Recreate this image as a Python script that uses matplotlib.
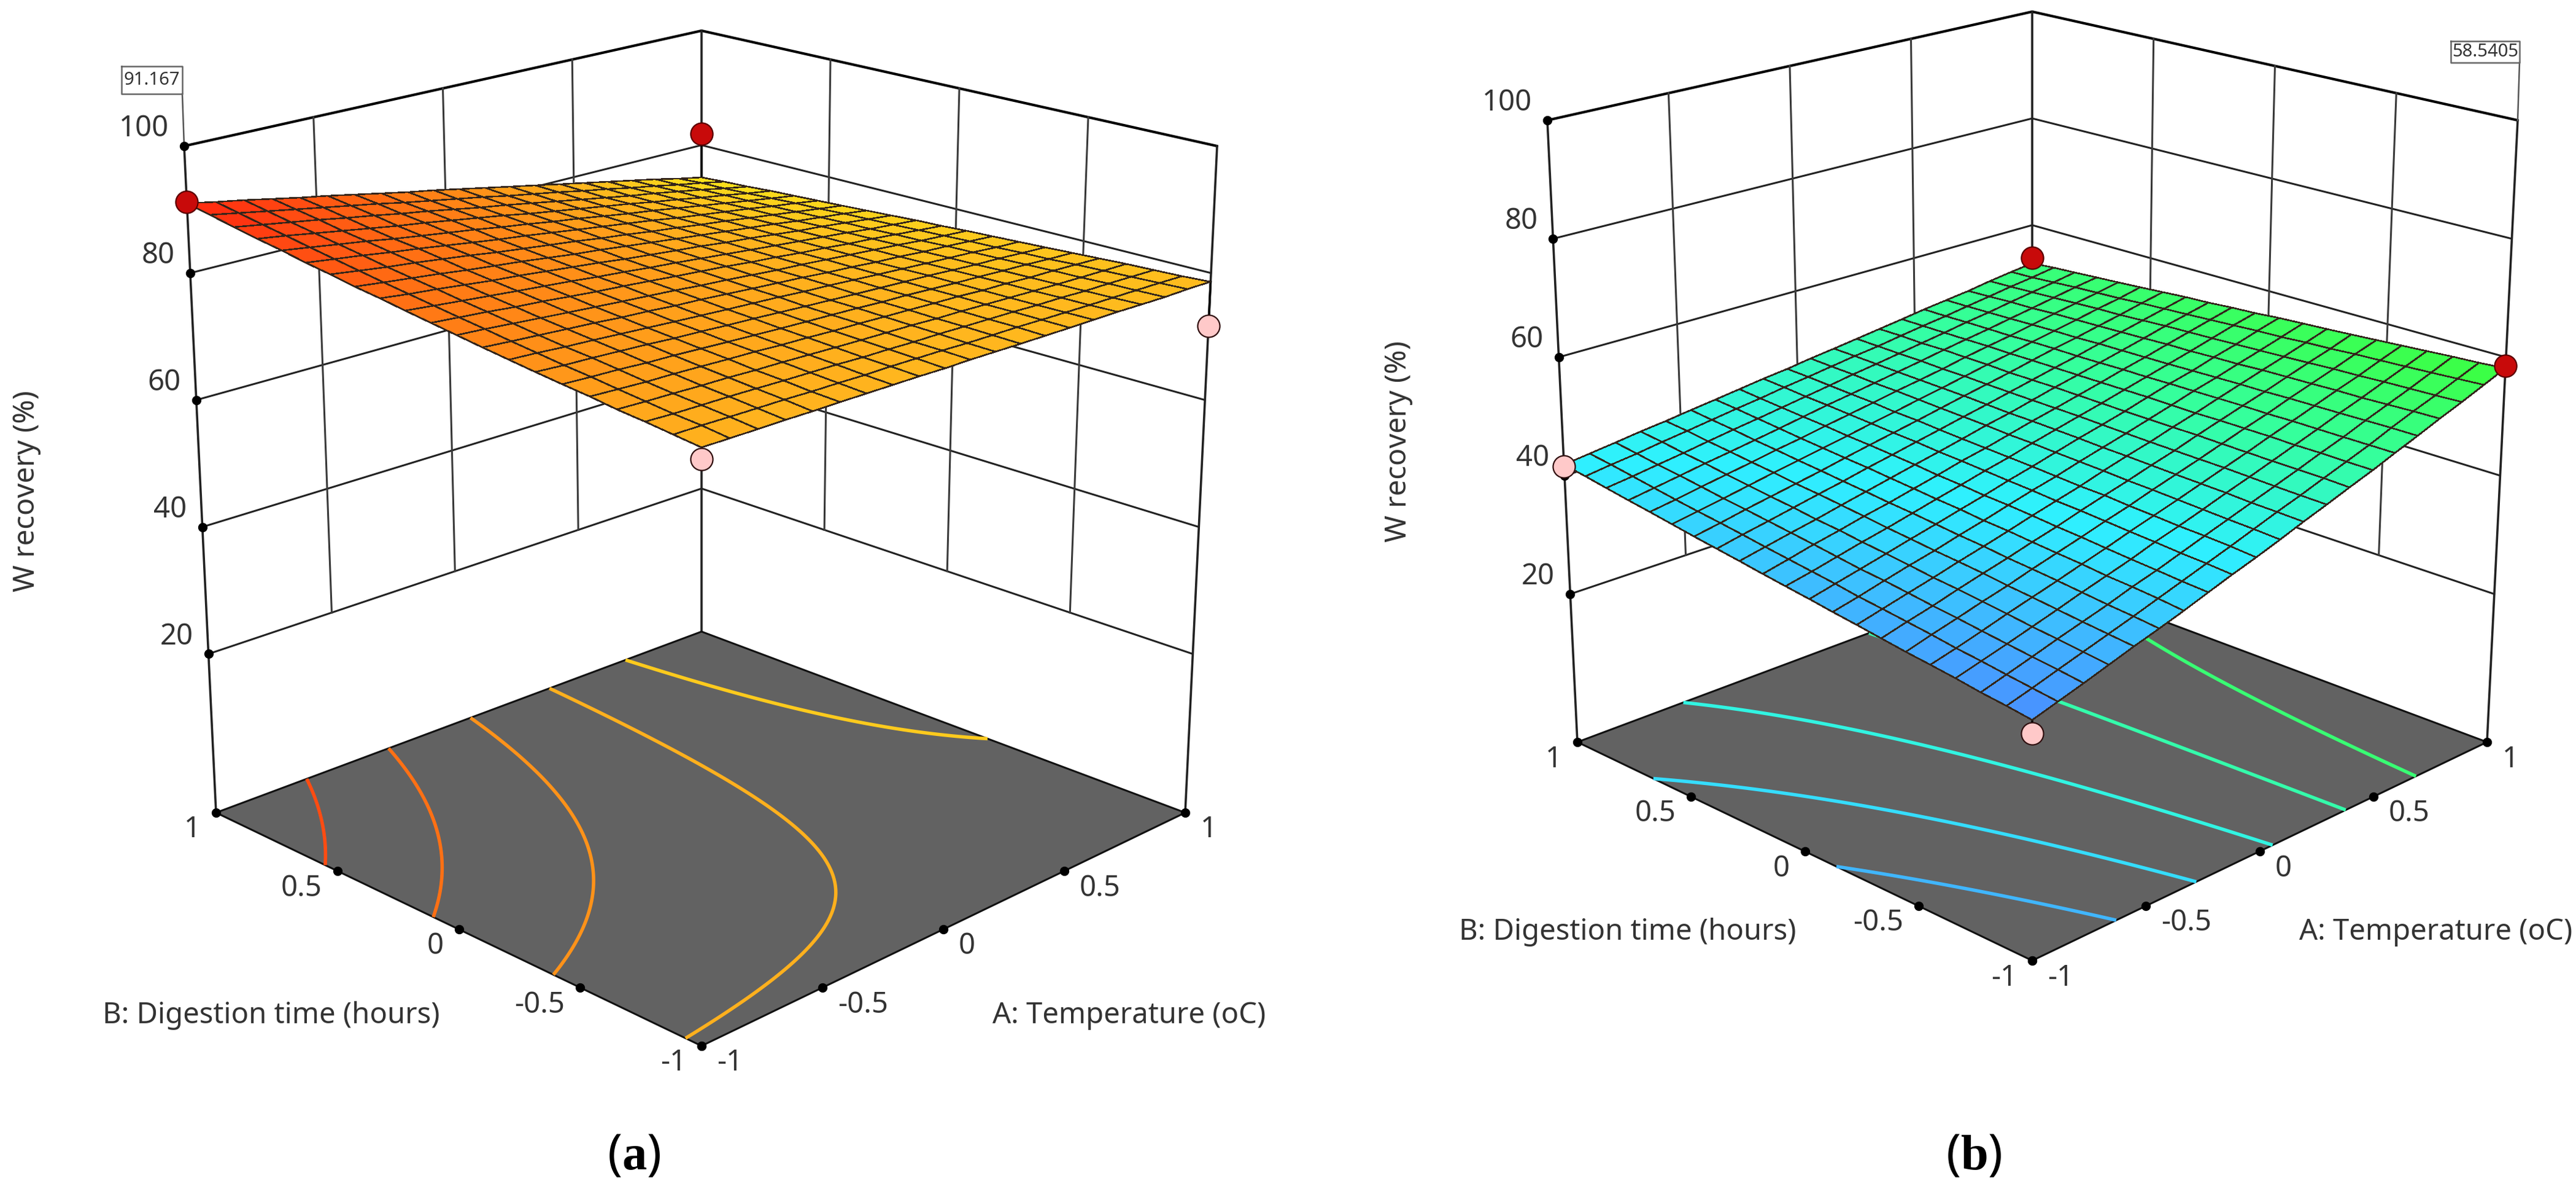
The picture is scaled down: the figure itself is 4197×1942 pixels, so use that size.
import numpy as np
import matplotlib
matplotlib.use('Agg')
import matplotlib.pyplot as plt
from matplotlib.colors import LinearSegmentedColormap, Normalize
from numpy.polynomial import polynomial as poly

plt.rcParams['font.family'] = ['Noto Sans', 'DejaVu Sans']
plt.rcParams['mathtext.fontset'] = 'custom'
plt.rcParams['mathtext.rm'] = 'Liberation Serif'
plt.rcParams['mathtext.bf'] = 'Liberation Serif:bold'

# readings, W recovery (%) at coded A (columns) and B (rows)
coded = [-1, -0.5, 0, 0.5, 1]
recovery_a = [[79.30, 79.13, 78.95, 78.78, 78.60],
              [81.72, 80.70, 79.68, 78.66, 77.64],
              [84.48, 82.52, 80.55, 78.59, 76.62],
              [87.57, 84.56, 81.56, 78.55, 75.54],
              [91.00, 86.85, 82.70, 78.55, 74.40]]
recovery_b = [[31.00, 37.00, 43.60, 50.70, 58.10],
              [33.30, 39.00, 44.55, 50.55, 56.80],
              [36.15, 40.90, 45.50, 50.40, 55.50],
              [39.00, 42.75, 46.40, 50.25, 54.20],
              [41.80, 44.60, 47.35, 50.10, 52.90]]

# design points, corners of the square
point_a = [-1, 1, 1, -1]
point_b = [-1, 1, -1, 1]
design_a = [77.6, 82.0, 71.7, 91.167]
design_b = [28.9, 53.9, 58.5405, 41.5]

contours_a = [77.0, 79.6, 82.3, 85.1, 87.9]
contours_b = [35.4, 39.9, 44.4, 48.9, 53.4]

z_ticks = [20, 40, 60, 80, 100]
coded_ticks = [-1, -0.5, 0, 0.5, 1]
coded_labels = ['-1', '-0.5', '0', '0.5', '1']

# colour ramp of the surface
ramp_values = [28, 31, 37, 42, 50, 58, 74.4, 79.3, 85, 91]
ramp_colors = ['#3f7fff', '#4a8fff', '#3cc4ff', '#2ff0ff', '#35ff9c',
               '#3cff3c', '#fbe61b', '#ffb41e', '#ff7414', '#ff2410']

W, H = 4197, 1942
norm = Normalize(ramp_values[0], ramp_values[-1])
cmap = LinearSegmentedColormap.from_list(
    'surface', [(norm(v), c) for v, c in zip(ramp_values, ramp_colors)])

Z_BASE = -5
MESH = 20
DEPTH = 0.12  # mesh cells shrink towards the back
TEXT = '#333333'
LINE = '#3a3a3a'


def make_box(floor, top):
    # floor and top: screen px of the corners (front, right, left, back)
    floor = np.array(floor, float)
    top = np.array(top, float)

    def place(a, b, z):
        a, b, z = np.broadcast_arrays(np.asarray(a, float), np.asarray(b, float), np.asarray(z, float))
        u = (a + 1) / 2
        v = (b + 1) / 2
        t = (z - Z_BASE) / (100 - Z_BASE)
        w = [(1 - u) * (1 - v), u * (1 - v), (1 - u) * v, u * v]
        x = sum(w[i] * (floor[i, 0] * (1 - t) + top[i, 0] * t) for i in range(4))
        y = sum(w[i] * (floor[i, 1] * (1 - t) + top[i, 1] * t) for i in range(4))
        return x, y
    return place


def response(table, a, b):
    # biquadratic response surface through the table readings
    aa, bb = np.meshgrid(coded, coded)
    vand = poly.polyvander2d(aa.ravel(), bb.ravel(), [2, 2])
    coef = np.linalg.lstsq(vand, np.array(table).ravel(), rcond=None)[0].reshape(3, 3)
    return poly.polyval2d(a, b, coef)


def foreshorten(c):
    u = (c + 1) / 2
    return 2 * (1 + DEPTH) * u / (1 + DEPTH * u) - 1


def draw_panel(ax, place, table, levels, design, opts):
    # walls
    for z in z_ticks:
        lw = 3.0 if z == 100 else 2.2
        col = 'black' if z == 100 else '#222222'
        x, y = place([-1, 1, 1], [1, 1, -1], z)
        ax.plot(x, y, color=col, lw=lw, zorder=1, solid_capstyle='round')
    for t in [-0.5, 0, 0.5]:
        x, y = place(t, 1, [20, 100])
        ax.plot(x, y, color=LINE, lw=2.2, zorder=1)
        x, y = place(1, t, [20, 100])
        ax.plot(x, y, color=LINE, lw=2.2, zorder=1)
    for a, b in [(-1, 1), (1, 1), (1, -1)]:
        x, y = place(a, b, [Z_BASE, 100])
        ax.plot(x, y, color='#222222', lw=2.6, zorder=1)

    # floor and contours
    x, y = place([-1, 1, 1, -1], [-1, -1, 1, 1], Z_BASE)
    ax.fill(x, y, facecolor='#626262', edgecolor='#111111', lw=2.2, zorder=2)
    fine = np.linspace(-1, 1, 121)
    fa, fb = np.meshgrid(fine, fine)
    fx, fy = place(fa, fb, Z_BASE)
    ax.contour(fx, fy, response(table, fa, fb), levels=levels,
               colors=[cmap(norm(v)) for v in levels], linewidths=4.0, zorder=3)

    # surface
    edges = np.linspace(-1, 1, MESH + 1)
    ea, eb = np.meshgrid(edges, edges)
    sx, sy = place(foreshorten(ea), foreshorten(eb), response(table, ea, eb))
    mids = (edges[:-1] + edges[1:]) / 2
    ma, mb = np.meshgrid(mids, mids)
    ax.pcolormesh(sx, sy, response(table, ma, mb), cmap=cmap, norm=norm, shading='flat',
                  edgecolors='#33241a', linewidth=1.1, zorder=5)

    # design points with stems to the surface
    for a, b, z in zip(point_a, point_b, design):
        s = response(table, float(a), float(b))
        x, y = place(a, b, [s, z])
        ax.plot(x, y, color='black', lw=2.6, zorder=4)
        face, edge = ('#c80a0a', '#5a0000') if z > s else ('#ffc9c9', '#301010')
        ax.plot(x[1], y[1], 'o', ms=26, mfc=face, mec=edge, mew=1.6, zorder=6)

    # ticks and labels
    fs = opts['fs']
    for z in z_ticks:
        x, y = place(-1, 1, z)
        ax.plot(x, y, 'o', ms=10, color='black', zorder=4)
        ax.text(x - 25, y - 28, str(z), ha='right', va='center', fontsize=fs, color=TEXT)
    for t, lab in zip(coded_ticks, coded_labels):
        x, y = place(-1, t, Z_BASE)
        ax.plot(x, y, 'o', ms=10, color='black', zorder=4)
        ax.text(x - 25, y + 28, lab, ha='right', va='center', fontsize=fs, color=TEXT)
        x, y = place(t, -1, Z_BASE)
        ax.plot(x, y, 'o', ms=10, color='black', zorder=4)
        ax.text(x + 25, y + 28, lab, ha='left', va='center', fontsize=fs, color=TEXT)

    ax.text(*opts['z_pos'], 'W recovery (%)', rotation=90, ha='center', va='center', fontsize=fs, color=TEXT)
    ax.text(*opts['b_pos'], 'B: Digestion time (hours)', ha='center', va='center', fontsize=fs, color=TEXT)
    ax.text(*opts['a_pos'], 'A: Temperature (oC)', ha='center', va='center', fontsize=fs, color=TEXT)
    ax.text(*opts['tag_pos'], opts['tag'], ha='center', va='center', fontsize=58, color='black')

    # value flag with its leader
    bx0, by0, bx1, by1 = opts['flag']
    ax.text((bx0 + bx1) / 2, (by0 + by1) / 2, opts['flag_text'], ha='center', va='center',
            fontsize=21, color=TEXT, zorder=8)
    ax.plot([bx0, bx1, bx1, bx0, bx0], [by0, by0, by1, by1, by0], color='#666666', lw=1.8, zorder=7)
    tx, ty = place(opts['flag_ab'][0], opts['flag_ab'][1], 100)
    ax.plot([opts['flag_x'], tx], [by1, ty], color='#555555', lw=1.8, zorder=1)


fig = plt.figure(figsize=(W / 100, H / 100), dpi=100)
ax = fig.add_axes([0, 0, 1, 1])

box_a = make_box([(1143, 1704), (1931, 1324), (352, 1324), (1143, 1029)],
                 [(1143, 489), (1983, 238), (300, 238), (1143, 50)])
box_b = make_box([(3311, 1565), (4052, 1209), (2570, 1209), (3311, 932)],
                 [(3311, 419), (4102, 196), (2521, 196), (3311, 19)])

draw_panel(ax, box_a, recovery_a, contours_a, design_a,
           dict(fs=34, z_pos=(44, 800), b_pos=(442, 1655), a_pos=(1840, 1655),
                tag_pos=(1033, 1884), tag=r'($\mathbf{a}$)', flag=(198, 108, 297, 153),
                flag_text='91.167', flag_ab=(-1, 1), flag_x=297))
draw_panel(ax, box_b, recovery_b, contours_b, design_b,
           dict(fs=34, z_pos=(2278, 719), b_pos=(2652, 1519), a_pos=(3969, 1519),
                tag_pos=(3216, 1884), tag=r'($\mathbf{b}$)', flag=(3993, 67, 4105, 102),
                flag_text='58.5405', flag_ab=(1, -1), flag_x=4105))

ax.set_xlim(0, W)
ax.set_ylim(H, 0)
ax.axis('off')
fig.savefig('out.png', dpi=100, facecolor='white')
